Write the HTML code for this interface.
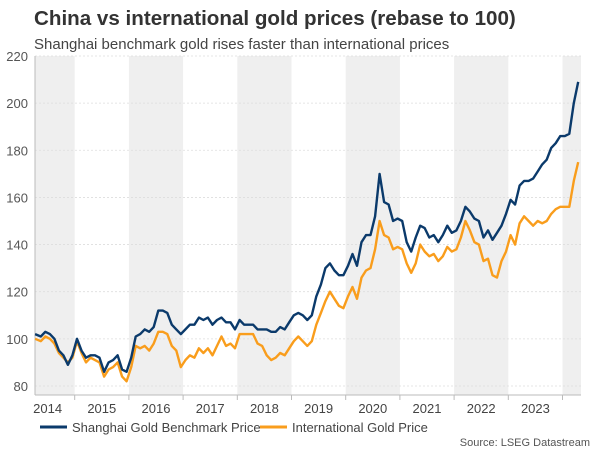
<!DOCTYPE html>
<html><head><meta charset="utf-8"><style>
body{margin:0;width:600px;height:450px;background:#fff;font-family:"Liberation Sans",sans-serif;overflow:hidden}
</style></head><body>
<svg width="600" height="450" xmlns="http://www.w3.org/2000/svg">
<text x="34" y="25" font-size="20.6" font-weight="bold" fill="#333">China vs international gold prices (rebase to 100)</text>
<text x="34" y="49" font-size="15" fill="#444">Shanghai benchmark gold rises faster than international prices</text>
<g id="bands"></g><g id="grid"></g><g id="axes"></g><g id="lines"></g>
<g>
<line x1="40" y1="427" x2="67" y2="427" stroke="#0b3a6b" stroke-width="3"/>
<text x="72" y="432" font-size="13" fill="#444">Shanghai Gold Benchmark Price</text>
<line x1="260" y1="427" x2="287" y2="427" stroke="#f99d1c" stroke-width="3"/>
<text x="292" y="432" font-size="13" fill="#444">International Gold Price</text>
</g>
<text x="590" y="446" font-size="11" fill="#555" text-anchor="end">Source: LSEG Datastream</text>
</svg>
<script>
const years=[2014,2015,2016,2017,2018,2019,2020,2021,2022,2023];
const yTicks=[80,100,120,140,160,180,200,220];
const startYear=2014.25;
const shanghai=[102,101,103,102,100,95,93,89,93,
100,95,92,93,93,92,86,90,91,93,87,86,
92,101,102,104,103,105,112,112,111,106,104,102,
104,106,106,109,108,109,106,108,109,107,107,104,
108,106,106,106,104,104,104,103,103,105,104,107,
110,111,110,108,110,118,123,130,132,129,127,127,
131,136,131,141,144,144,152,170,158,157,150,151,
150,141,137,143,148,147,143,144,141,144,148,145,
146,150,156,154,151,150,143,146,142,145,148,153,
159,157,165,167,167,168,171,174,176,181,183,186,
186,187,200,209];
const international=[100,99,101,100,98,94,92,90,92,
99,94,90,92,91,90,84,87,88,90,84,82,
88,97,96,97,95,98,103,103,102,97,95,88,
91,93,92,96,94,96,93,97,101,97,98,96,
102,102,102,102,98,97,93,91,92,94,93,96,
99,101,99,97,99,106,111,116,120,117,114,113,
118,122,117,126,129,130,138,150,144,143,138,139,
138,132,128,132,140,137,135,136,133,135,139,137,
138,143,150,146,141,140,133,134,127,126,133,137,
144,140,149,152,150,148,150,149,150,153,155,156,
156,156,167,175];
const NS="http://www.w3.org/2000/svg";
const X0=35,X1=581,Y0=395;
function xs(t){return 20.5+(t-2014)*54.2;}
function ys(v){return 56+(220-v)*2.357;}
function mk(tag,attrs,parent){const e=document.createElementNS(NS,tag);for(const k in attrs)e.setAttribute(k,attrs[k]);document.getElementById(parent).appendChild(e);return e;}
for(let yr=2014;yr<=2024;yr+=2){
 const a=Math.max(X0,xs(yr)),b=Math.min(X1,xs(yr+1));
 const r=mk('rect',{x:a,y:56,width:b-a,height:Y0-56,fill:'#efefef'},'bands');
 
 
}
yTicks.forEach(v=>{
 const l=mk('line',{x1:X0,x2:X1,y1:ys(v),y2:ys(v),stroke:'#ddd','stroke-dasharray':'2,2','stroke-width':0.8},'grid');
 
 
 const t=mk('text',{x:28,y:ys(v)+5,'font-size':13,fill:'#555','text-anchor':'end'},'axes');
 t.textContent=v;
 
 
});
mk('line',{x1:X0,x2:X0,y1:56,y2:Y0,stroke:'#bbb'},'axes');
mk('line',{x1:X0,x2:X1,y1:Y0,y2:Y0,stroke:'#bbb'},'axes');
years.forEach(yr=>{
 const t=mk('text',{x:xs(yr+0.5),y:413,'font-size':13,fill:'#444','text-anchor':'middle'},'axes');
 t.textContent=yr;
 
 
 if(yr>2014){mk('line',{x1:xs(yr),x2:xs(yr),y1:Y0,y2:Y0+5,stroke:'#bbb'},'axes');}
});
mk('line',{x1:xs(2024),x2:xs(2024),y1:Y0,y2:Y0+5,stroke:'#bbb'},'axes');
function tAt(i){return i===0?startYear+0.02:startYear+(i+0.5)/12;}
function path(arr,color,name){
 const d=arr.map((v,i)=>(i?'L':'M')+xs(Math.min(tAt(i),2024.29)).toFixed(1)+','+ys(v).toFixed(1)).join('');
 const p=mk('path',{d:d,fill:'none',stroke:color,'stroke-width':2.4,'stroke-linejoin':'round'},'lines');
 
 
}
path(international,'#f99d1c','international-gold-line');
path(shanghai,'#0b3a6b','shanghai-gold-line');
</script>
</body></html>
